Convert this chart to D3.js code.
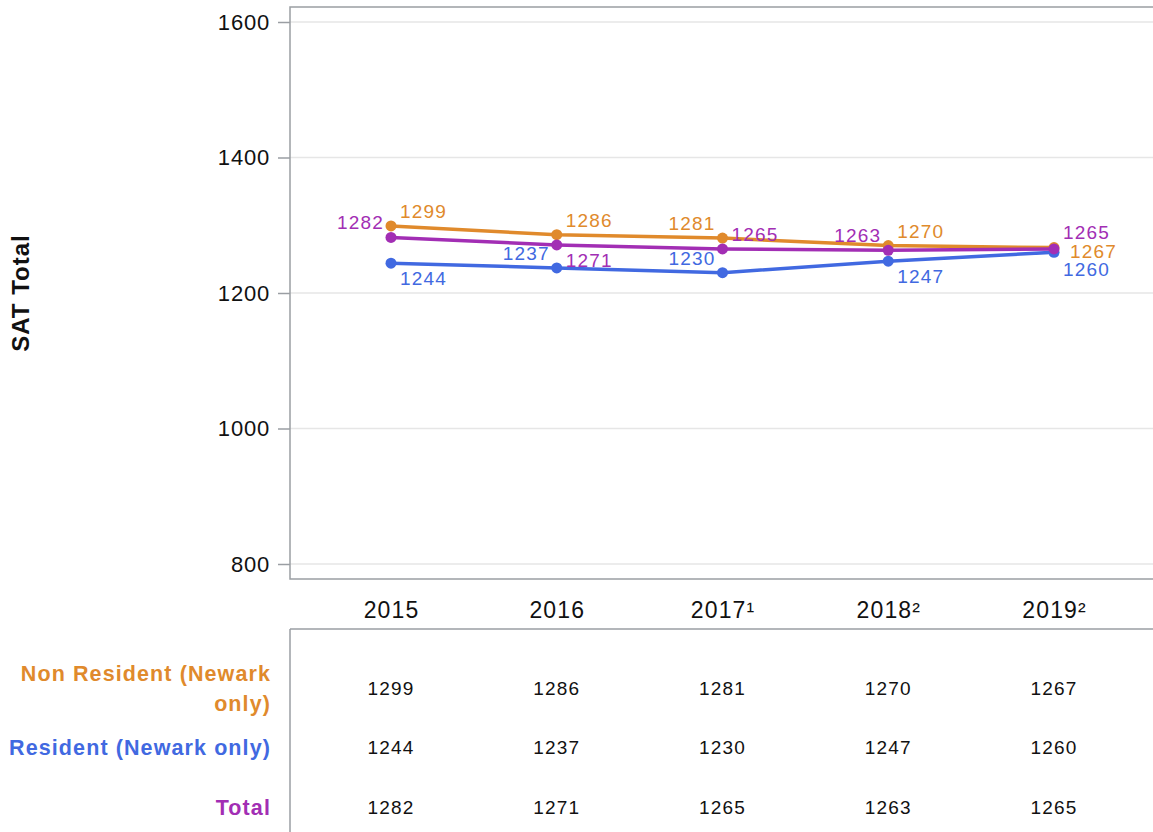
<!DOCTYPE html>
<html>
<head>
<meta charset="utf-8">
<script src="https://cdn.jsdelivr.net/npm/d3@7"></script>
<style>
  html, body { margin: 0; padding: 0; background: #fff; }
  svg { display: block; font-family: "Liberation Sans", Arial, sans-serif; }
</style>
</head>
<body>
<svg id="chart" width="1153" height="832"></svg>
<script>
// ---- data ----
const years = ["2015", "2016", "2017¹", "2018²", "2019²"];
const seriesNames = ["Non Resident (Newark only)", "Resident (Newark only)", "Total"];
const nonResident = [1299, 1286, 1281, 1270, 1267];
const resident = [1244, 1237, 1230, 1247, 1260];
const total = [1282, 1271, 1265, 1263, 1265];
const yTicks = [800, 1000, 1200, 1400, 1600];

// ---- styling / layout ----
const colors = ["#e08a2c", "#4169e1", "#a22eb4"];
const labelPlacement = [
  ["ra", "ra", "la", "ra", "r"],
  ["rb", "la", "la", "rb", "rB"],
  ["la", "rb", "ra", "la", "rA"]
];
const seriesData = [nonResident, resident, total];

const svg = d3.select("#chart");
const panel = { left: 290, top: 7, right: 1160, bottom: 579 };
const x = d3.scalePoint().domain(years).range([391, 1054]);
const y = d3.scaleLinear().domain([800, 1600]).range([564, 22]);
const gray = "#9a9ea3";

// gridlines
svg.append("g").selectAll("line").data(yTicks).join("line")
  .attr("x1", panel.left).attr("x2", panel.right)
  .attr("y1", d => y(d)).attr("y2", d => y(d))
  .attr("stroke", "#e6e6e6").attr("stroke-width", 1.5);

// panel border
svg.append("rect")
  .attr("x", panel.left).attr("y", panel.top)
  .attr("width", panel.right - panel.left).attr("height", panel.bottom - panel.top)
  .attr("fill", "none").attr("stroke", gray).attr("stroke-width", 1.5);

// y axis
const yAxis = d3.axisLeft(y).tickValues(yTicks).tickSize(12).tickPadding(8).tickFormat(d3.format("d"));
const yg = svg.append("g").attr("transform", `translate(${panel.left},0)`).call(yAxis);
yg.select(".domain").remove();
yg.selectAll(".tick line").attr("stroke", gray).attr("stroke-width", 1.5);
yg.selectAll(".tick text").attr("fill", "#111").style("font-size", "22px")
  .style("letter-spacing", "0.8px")
  .style("font-family", "'Liberation Sans', Arial, sans-serif");

// y title
svg.append("text")
  .attr("transform", "translate(29,293) rotate(-90)")
  .attr("text-anchor", "middle")
  .style("font-size", "24px").style("font-weight", "bold").style("letter-spacing", "1px")
  .attr("fill", "#111")
  .text("SAT Total");

// x axis labels
const xAxis = d3.axisBottom(x).tickSize(0).tickPadding(0);
const xg = svg.append("g").attr("transform", `translate(0,${panel.bottom})`).call(xAxis);
xg.select(".domain").remove();
xg.selectAll(".tick text").attr("dy", null).attr("y", 39).attr("fill", "#111")
  .style("font-size", "23px").style("letter-spacing", "1.1px")
  .style("font-family", "'Liberation Sans', Arial, sans-serif");

// lines and points
const line = d3.line().x((d, i) => x(years[i])).y(d => y(d));
seriesData.forEach((vals, s) => {
  const g = svg.append("g");
  g.append("path").datum(vals).attr("d", line)
    .attr("fill", "none").attr("stroke", colors[s]).attr("stroke-width", 3.5)
    .attr("stroke-linejoin", "round");
  g.selectAll("circle").data(vals).join("circle")
    .attr("cx", (d, i) => x(years[i])).attr("cy", d => y(d)).attr("r", 5.5)
    .attr("fill", colors[s]);
});

// data labels
const dyFor = { a: -8, b: 22, A: -10, B: 24 };
seriesData.forEach((vals, s) => {
  svg.append("g").selectAll("text").data(vals).join("text")
    .attr("x", (d, i) => {
      const p = labelPlacement[s][i];
      if (p === "r") return x(years[i]) + 16;
      return x(years[i]) + (p[0] === "l" ? -7 : 9);
    })
    .attr("y", (d, i) => {
      const p = labelPlacement[s][i];
      if (p === "r") return y(d) + 10;
      return y(d) + dyFor[p[1]];
    })
    .attr("text-anchor", (d, i) => labelPlacement[s][i][0] === "l" ? "end" : "start")
    .attr("fill", colors[s]).style("font-size", "19px").style("letter-spacing", "1.2px")
    .text(d => d);
});

// table
const tableTop = 629;
svg.append("line").attr("x1", panel.left).attr("x2", 1153)
  .attr("y1", tableTop).attr("y2", tableTop).attr("stroke", gray).attr("stroke-width", 1.5);
svg.append("line").attr("x1", panel.left).attr("x2", panel.left)
  .attr("y1", tableTop).attr("y2", 832).attr("stroke", gray).attr("stroke-width", 1.5);

const rowY = [688, 747, 807];
const rowLabelLines = [["Non Resident (Newark", "only)"], ["Resident (Newark only)"], ["Total"]];
rowLabelLines.forEach((lines, r) => {
  const t = svg.append("text").attr("text-anchor", "end")
    .attr("fill", colors[r]).style("font-size", "21.5px").style("font-weight", "bold")
    .style("letter-spacing", "1.1px");
  const startY = rowY[r] - (lines.length - 1) * 15 + 8;
  lines.forEach((ln, k) => {
    t.append("tspan").attr("x", 271).attr("y", startY + k * 30).text(ln);
  });
});
seriesData.forEach((vals, r) => {
  svg.append("g").selectAll("text").data(vals).join("text")
    .attr("x", (d, i) => x(years[i])).attr("y", rowY[r] + 7)
    .attr("text-anchor", "middle").attr("fill", "#111")
    .style("font-size", "19px").style("letter-spacing", "1.2px")
    .text(d => d);
});
</script>
</body>
</html>
